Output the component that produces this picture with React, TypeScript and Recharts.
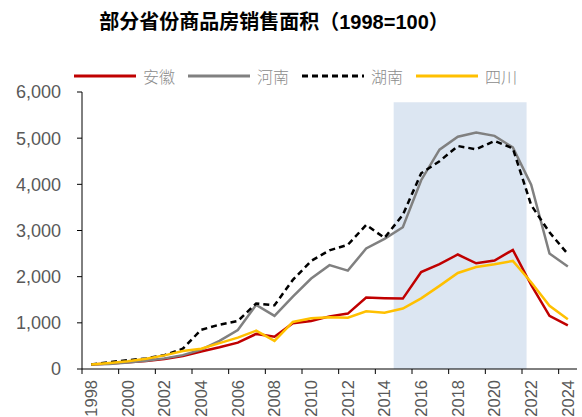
import { LineChart, Line, XAxis, YAxis, Legend, ReferenceArea } from "recharts";

const years = [
  1998, 1999, 2000, 2001, 2002, 2003, 2004, 2005, 2006, 2007, 2008, 2009, 2010, 2011,
  2012, 2013, 2014, 2015, 2016, 2017, 2018, 2019, 2020, 2021, 2022, 2023, 2024,
];
const anhui = [
  100, 120, 145, 175, 215, 280, 380, 470, 570, 760, 700, 990, 1040, 1140,
  1200, 1550, 1535, 1525, 2100, 2270, 2480, 2290, 2350, 2580, 1820, 1150, 945,
];
const henan = [
  100, 110, 140, 180, 230, 300, 420, 610, 845, 1390, 1150, 1570, 1960, 2250,
  2130, 2610, 2820, 3070, 4090, 4750, 5030, 5120, 5050, 4800, 3990, 2500, 2220,
];
const hunan = [
  100, 150, 190, 230, 300, 440, 850, 960, 1040, 1420, 1380, 1930, 2340, 2570,
  2690, 3120, 2840, 3340, 4240, 4500, 4830, 4760, 4940, 4780, 3550, 2960, 2490,
];
const sichuan = [
  95, 130, 170, 220, 295, 390, 440, 560, 680, 830, 610, 1020, 1100, 1120,
  1110, 1250, 1220, 1310, 1530, 1800, 2080, 2210, 2270, 2340, 1880, 1370, 1080,
];

const yTicks = [0, 1000, 2000, 3000, 4000, 5000, 6000];
const xTicks = [1998, 2000, 2002, 2004, 2006, 2008, 2010, 2012, 2014, 2016, 2018, 2020, 2022, 2024];
// shaded period
const shadeFrom = 2014.5;
const shadeTo = 2021.75;
const shadeTop = 5780;

const series = [
  { key: "anhui", name: "安徽", color: "#c00000", dash: undefined },
  { key: "henan", name: "河南", color: "#808080", dash: undefined },
  { key: "hunan", name: "湖南", color: "#000000", dash: "6 4" },
  { key: "sichuan", name: "四川", color: "#ffc000", dash: undefined },
];

const data = years.map((year, i) => ({
  year,
  anhui: anhui[i],
  henan: henan[i],
  hunan: hunan[i],
  sichuan: sichuan[i],
}));

const W = 582;
const H = 417;
const LEFT = 82;
const RIGHT = 5;
// half a year in px, tick marks sit between categories
const HALF_STEP = (W - LEFT - RIGHT) / years.length / 2;

const XTick = (props: any) => {
  const { x, y, payload } = props;
  return (
    <g>
      <line x1={x - HALF_STEP} y1={y} x2={x - HALF_STEP} y2={y + 5} stroke="#000" strokeWidth={1} />
      <text
        transform={`translate(${x},${y + 11}) rotate(-90)`}
        textAnchor="end"
        dy="0.35em"
        fill="#595959"
        fontSize={16.5}
        fontFamily="Arial, 'Liberation Sans', sans-serif"
      >
        {payload.value}
      </text>
    </g>
  );
};

const renderLegend = () => (
  <div style={{ display: "flex", alignItems: "center", height: 16 }}>
    {series.map((s) => (
      <div key={s.key} style={{ display: "flex", alignItems: "center", width: 114 }}>
        <svg width={62} height={16}>
          <line x1={0} y1={8} x2={62} y2={8} stroke={s.color} strokeWidth={3} strokeDasharray={s.dash} />
        </svg>
        <span
          style={{
            marginLeft: 7,
            fontSize: 16,
            color: "#8c8c8c",
            fontFamily: "'Noto Sans CJK SC', sans-serif",
            fontWeight: 300,
            lineHeight: "16px",
          }}
        >
          {s.name}
        </span>
      </div>
    ))}
  </div>
);

export default function App() {
  return (
    <div style={{ position: "absolute", left: 0, top: 0, width: W, height: H, background: "#fff" }}>
      <div
        style={{
          position: "absolute",
          top: 10,
          left: 0,
          width: 548,
          textAlign: "center",
          fontSize: 20,
          fontWeight: "bold",
          lineHeight: "24px",
          fontFamily: "Arial, 'Liberation Sans', 'Noto Sans CJK SC', sans-serif",
          color: "#000",
        }}
      >
        部分省份商品房销售面积（1998=100）
      </div>
      <LineChart width={W} height={H} data={data} margin={{ top: 76, right: RIGHT, bottom: 0, left: 0 }}>
        <ReferenceArea x1={shadeFrom} x2={shadeTo} y1={0} y2={shadeTop} fill="#dce6f2" fillOpacity={1} stroke="none" ifOverflow="extendDomain" />
        <XAxis
          dataKey="year"
          type="number"
          domain={[1997.5, 2024.5]}
          ticks={xTicks}
          interval={0}
          height={48}
          tickLine={false}
          tickSize={0}
          tickMargin={0}
          axisLine={{ stroke: "#000" }}
          tick={<XTick />}
        />
        <YAxis
          width={LEFT}
          domain={[0, 6000]}
          ticks={yTicks}
          tickSize={5}
          tickMargin={16}
          axisLine={{ stroke: "#000" }}
          tickLine={{ stroke: "#000" }}
          tickFormatter={(v: number) => v.toLocaleString("en-US")}
          tick={{ fill: "#595959", fontSize: 18, fontFamily: "Arial, 'Liberation Sans', sans-serif" }}
        />
        <Legend verticalAlign="top" align="left" content={renderLegend} wrapperStyle={{ top: 68, left: 74, width: 480, height: 16 }} />
        {series.map((s) => (
          <Line
            key={s.key}
            type="linear"
            dataKey={s.key}
            name={s.name}
            stroke={s.color}
            strokeWidth={2.5}
            strokeDasharray={s.dash}
            dot={false}
            isAnimationActive={false}
          />
        ))}
      </LineChart>
    </div>
  );
}
